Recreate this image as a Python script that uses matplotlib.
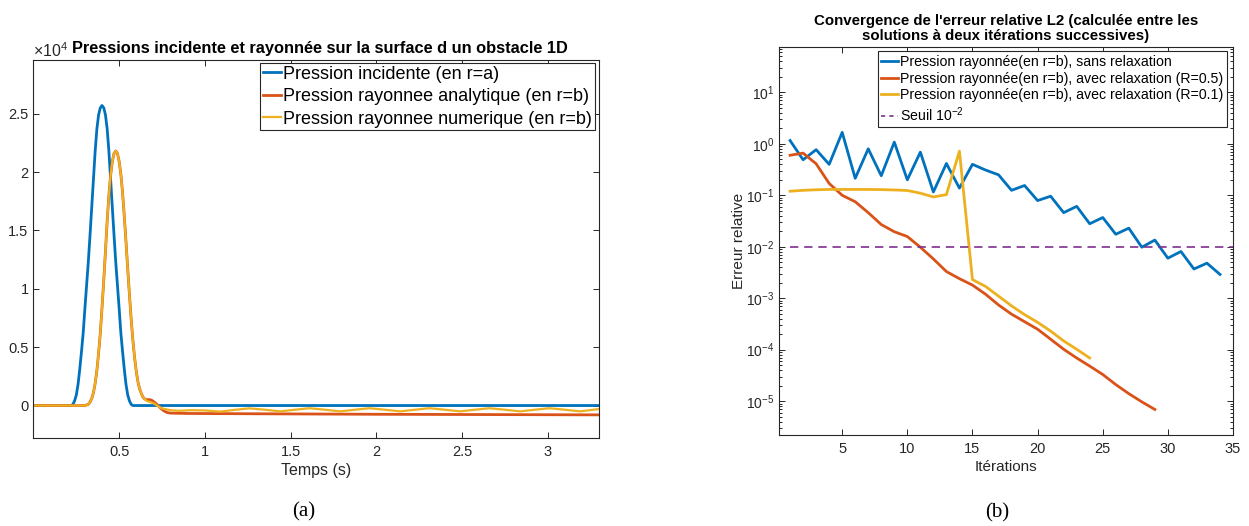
import numpy as np
import matplotlib
matplotlib.use("Agg")
import matplotlib.pyplot as plt
from matplotlib.ticker import LogLocator, NullFormatter

plt.rcParams["font.family"] = ["Liberation Sans", "DejaVu Sans"]
plt.rcParams["mathtext.fontset"] = "custom"
plt.rcParams["mathtext.rm"] = "Liberation Sans"
plt.rcParams["mathtext.it"] = "Liberation Sans:italic"
plt.rcParams["mathtext.bf"] = "Liberation Sans:bold"

# MATLAB default colours
BLUE = "#0072BD"
RED = "#D95319"
YELLOW = "#EDB120"
PURPLE = "#7E2F8E"
AXC = "#262626"

# ---- (a) pressures, values in units of 1e4 Pa ----
t_inc = [0.0, 0.22, 0.23, 0.24, 0.25, 0.26, 0.27, 0.28, 0.29, 0.30, 0.31, 0.32, 0.33,
         0.34, 0.35, 0.36, 0.37, 0.38, 0.39, 0.40, 0.41, 0.42, 0.43, 0.44, 0.45,
         0.46, 0.47, 0.48, 0.49, 0.50, 0.51, 0.52, 0.53, 0.54, 0.55, 0.56, 0.57,
         0.58, 3.3]
p_inc = [0.0, 0.0, 0.01, 0.04, 0.09, 0.18, 0.31, 0.46, 0.62, 0.83, 1.03, 1.23, 1.46,
         1.70, 1.94, 2.18, 2.37, 2.49, 2.55, 2.57, 2.55, 2.49, 2.37, 2.18, 1.94,
         1.70, 1.46, 1.23, 1.03, 0.83, 0.62, 0.46, 0.31, 0.18, 0.09, 0.04, 0.01,
         0.0, 0.0]

t_ana = [0.0, 0.30, 0.31, 0.32, 0.33, 0.34, 0.35, 0.36, 0.37, 0.38, 0.39, 0.40,
         0.41, 0.42, 0.43, 0.44, 0.45, 0.46, 0.47, 0.48, 0.49, 0.50, 0.51, 0.52,
         0.53, 0.54, 0.55, 0.56, 0.57, 0.58, 0.59, 0.60, 0.61, 0.62, 0.63, 0.64,
         0.65, 0.66, 0.67, 0.68, 0.69, 0.70, 0.72, 0.74, 0.76, 0.78, 0.80, 0.90,
         1.2, 2.0, 3.3]
p_ana = [0.0, 0.0, 0.005, 0.01, 0.03, 0.06, 0.11, 0.19, 0.30, 0.45, 0.62, 0.84,
         1.07, 1.32, 1.58, 1.80, 1.97, 2.09, 2.16, 2.18, 2.16, 2.09, 1.98, 1.82,
         1.62, 1.40, 1.17, 0.95, 0.74, 0.56, 0.41, 0.29, 0.20, 0.14, 0.10, 0.07,
         0.055, 0.05, 0.05, 0.05, 0.045, 0.035, 0.01, -0.02, -0.045, -0.06, -0.065,
         -0.068, -0.07, -0.075, -0.08]

t_num = [0.0, 0.30, 0.31, 0.32, 0.33, 0.34, 0.35, 0.36, 0.37, 0.38, 0.39, 0.40,
         0.41, 0.42, 0.43, 0.44, 0.45, 0.46, 0.47, 0.48, 0.49, 0.50, 0.51, 0.52,
         0.53, 0.54, 0.55, 0.56, 0.57, 0.58, 0.59, 0.60, 0.61, 0.62, 0.63, 0.64,
         0.66, 0.68, 0.70, 0.72, 0.75, 0.80, 0.85, 0.92, 1.00, 1.09, 1.17, 1.26,
         1.35, 1.44, 1.52, 1.61, 1.70, 1.79, 1.87, 1.96, 2.05, 2.14, 2.22, 2.31,
         2.40, 2.49, 2.57, 2.66, 2.75, 2.84, 2.92, 3.01, 3.10, 3.19, 3.3]
p_num = [0.0, 0.0, 0.005, 0.01, 0.03, 0.06, 0.11, 0.19, 0.30, 0.45, 0.62, 0.84,
         1.07, 1.32, 1.58, 1.80, 1.97, 2.09, 2.16, 2.18, 2.16, 2.09, 1.98, 1.82,
         1.62, 1.40, 1.17, 0.95, 0.74, 0.56, 0.41, 0.29, 0.20, 0.14, 0.10, 0.07,
         0.04, 0.03, 0.02, 0.0, -0.025, -0.04, -0.045, -0.04, -0.042, -0.052, -0.038,
         -0.024, -0.036, -0.05, -0.037, -0.023, -0.036, -0.05, -0.037, -0.023,
         -0.036, -0.05, -0.037, -0.023, -0.036, -0.05, -0.037, -0.023, -0.036,
         -0.05, -0.037, -0.023, -0.036, -0.05, -0.03]

xticks_a = [0.5, 1, 1.5, 2, 2.5, 3]
xlabels_a = ["0.5", "1", "1.5", "2", "2.5", "3"]
yticks_a = [0, 0.5, 1, 1.5, 2, 2.5]
ylabels_a = ["0", "0.5", "1", "1.5", "2", "2.5"]

# ---- (b) convergence ----
it_sans = list(range(1, 35))
err_sans = [1.16, 0.49, 0.77, 0.40, 1.67, 0.214, 0.80, 0.24, 1.08, 0.20, 0.69, 0.116,
            0.415, 0.138, 0.40, 0.31, 0.25, 0.125, 0.155, 0.079, 0.096, 0.046,
            0.061, 0.028, 0.037, 0.0175, 0.023, 0.0098, 0.0135, 0.006, 0.0081,
            0.0037, 0.0048, 0.0029]
it_r05 = list(range(1, 30))
err_r05 = [0.60, 0.66, 0.41, 0.17, 0.10, 0.075, 0.046, 0.027, 0.0196, 0.0158,
           0.0098, 0.0058, 0.0033, 0.0024, 0.0018, 0.0012, 7.4e-4, 4.9e-4, 3.5e-4,
           2.5e-4, 1.6e-4, 1.02e-4, 6.9e-5, 4.8e-5, 3.3e-5, 2.1e-5, 1.4e-5, 9.7e-6,
           6.9e-6]
it_r01 = list(range(1, 25))
err_r01 = [0.12, 0.125, 0.128, 0.13, 0.13, 0.13, 0.13, 0.129, 0.127, 0.124, 0.11,
           0.093, 0.103, 0.72, 0.0023, 0.0017, 0.0011, 7.1e-4, 4.8e-4, 3.4e-4,
           2.3e-4, 1.48e-4, 1.02e-4, 6.9e-5]
seuil_x = [1, 35]
seuil = 1e-2

fig = plt.figure(figsize=(12.49, 5.26), dpi=100)

# ---------- panel (a) ----------
ax1 = fig.add_axes([0.0268, 0.168, 0.4528, 0.718])
ax1.plot(t_inc, p_inc, color=BLUE, lw=2, label="Pression incidente (en r=a)")
ax1.plot(t_ana, p_ana, color=RED, lw=2, label="Pression rayonnee analytique (en r=b)")
ax1.plot(t_num, p_num, color=YELLOW, lw=1.6, label="Pression rayonnee numerique (en r=b)")
ax1.set_xlim(0, 3.3)
ax1.set_ylim(-0.275, 2.96)
ax1.set_xticks(xticks_a, xlabels_a)
ax1.set_yticks(yticks_a, ylabels_a)
ax1.set_xlabel("Temps (s)", fontsize=11.5, color=AXC, labelpad=3)
ax1.set_title("Pressions incidente et rayonnée sur la surface d un obstacle 1D",
              fontsize=11.8, fontweight="bold", pad=5, loc="center", x=0.507)
ax1.text(0.0, 1.0, r"$\times10^{4}$", transform=ax1.transAxes, fontsize=11.5,
         color=AXC, ha="left", va="bottom")
leg1 = ax1.legend(loc="upper right", bbox_to_anchor=(0.993, 0.992), borderaxespad=0,
                  fontsize=13, handlelength=1.0, handletextpad=0.15, labelspacing=0.3,
                  borderpad=0.15, fancybox=False, framealpha=1, edgecolor=AXC)
leg1.get_frame().set_linewidth(0.8)

# ---------- panel (b) ----------
ax2 = fig.add_axes([0.6237, 0.173, 0.3635, 0.737])
ax2.plot(it_sans, err_sans, color=BLUE, lw=2,
         label="Pression rayonnée(en r=b), sans relaxation")
ax2.plot(it_r05, err_r05, color=RED, lw=2,
         label="Pression rayonnée(en r=b), avec relaxation (R=0.5)")
ax2.plot(it_r01, err_r01, color=YELLOW, lw=2,
         label="Pression rayonnée(en r=b), avec relaxation (R=0.1)")
ax2.plot(seuil_x, [seuil, seuil], color=PURPLE, lw=1.2, ls=(0, (5, 3.5)),
         label=r"Seuil $10^{-2}$")
ax2.set_yscale("log")
ax2.set_xlim(0.15, 35)
ax2.set_ylim(2.2e-6, 75)
ax2.set_xticks([5, 10, 15, 20, 25, 30, 35])
ax2.set_yticks([1e-5, 1e-4, 1e-3, 1e-2, 1e-1, 1, 10],
               [r"$10^{-5}$", r"$10^{-4}$", r"$10^{-3}$", r"$10^{-2}$",
                r"$10^{-1}$", r"$10^{0}$", r"$10^{1}$"])
ax2.yaxis.set_minor_locator(LogLocator(base=10, subs=np.arange(2, 10), numticks=20))
ax2.yaxis.set_minor_formatter(NullFormatter())
ax2.set_xlabel("Itérations", fontsize=11, color=AXC, labelpad=3)
ax2.set_ylabel("Erreur relative", fontsize=11, color=AXC, labelpad=0)
ax2.set_title("Convergence de l'erreur relative L2 (calculée entre les\n"
              "solutions à deux itérations successives)",
              fontsize=10.8, fontweight="bold", pad=5, linespacing=1.15)
leg2 = ax2.legend(loc="upper right", bbox_to_anchor=(0.987, 0.990), borderaxespad=0,
                  fontsize=10.2, handlelength=1.2, handletextpad=0.15, labelspacing=0.2,
                  borderpad=0.25, fancybox=False, framealpha=1, edgecolor=AXC)
leg2.get_frame().set_linewidth(0.8)
leg2.get_lines()[3].set_dashes([2.5, 2.5])

for ax in (ax1, ax2):
    ax.tick_params(which="both", direction="in", top=True, right=True,
                   colors=AXC, labelsize=10.5, width=0.7)
    ax.tick_params(which="major", length=4)
    ax.tick_params(which="minor", length=2.2)
    ax.tick_params(axis="x", pad=5)
    for sp in ax.spines.values():
        sp.set_color(AXC)
        sp.set_linewidth(0.8)
ax2.tick_params(axis="y", labelsize=10)

fig.text(0.2434, 0.027, "(a)", family="Liberation Serif", fontsize=15,
         ha="center", va="center")
fig.text(0.7986, 0.025, "(b)", family="Liberation Serif", fontsize=15,
         ha="center", va="center")

fig.savefig("out.png", dpi=100)
